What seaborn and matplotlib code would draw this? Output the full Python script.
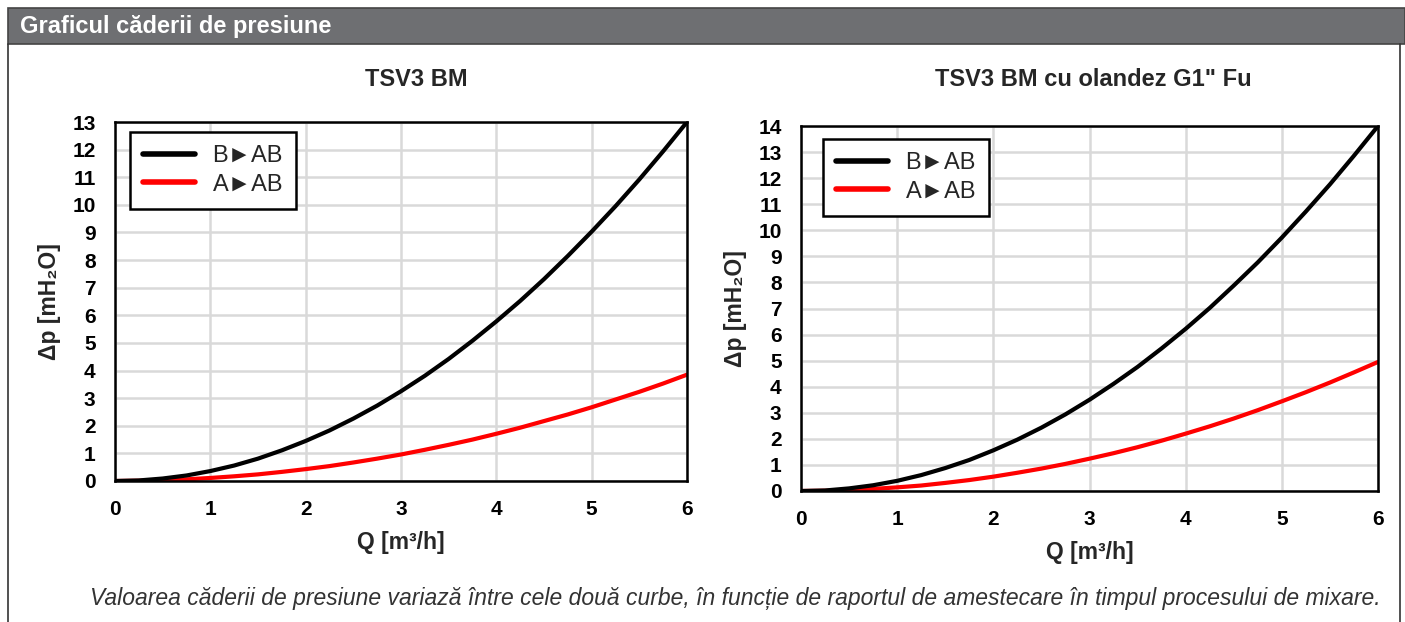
import matplotlib
matplotlib.use('Agg')
import matplotlib.pyplot as plt
import pandas as pd
import seaborn as sns
from matplotlib.lines import Line2D
from matplotlib.patches import Rectangle

# flow values read along the x axis
q = [0, 0.25, 0.5, 0.75, 1, 1.25, 1.5, 1.75, 2, 2.25, 2.5, 2.75, 3,
     3.25, 3.5, 3.75, 4, 4.25, 4.5, 4.75, 5, 5.25, 5.5, 5.75, 6]

# TSV3 BM
left_b_ab = [0, 0.02, 0.09, 0.2, 0.36, 0.56, 0.81, 1.11, 1.45, 1.83, 2.26,
             2.73, 3.25, 3.81, 4.42, 5.08, 5.78, 6.52, 7.31, 8.15, 9.03,
             9.95, 10.92, 11.94, 13.0]
left_a_ab = [0, 0.01, 0.03, 0.06, 0.11, 0.17, 0.24, 0.33, 0.43, 0.54, 0.67,
             0.81, 0.96, 1.13, 1.31, 1.5, 1.71, 1.93, 2.17, 2.41, 2.67,
             2.95, 3.23, 3.53, 3.85]

# TSV3 BM cu olandez G1" Fu
right_b_ab = [0, 0.02, 0.1, 0.22, 0.39, 0.61, 0.88, 1.19, 1.56, 1.97, 2.43,
              2.94, 3.5, 4.11, 4.76, 5.47, 6.22, 7.02, 7.88, 8.77, 9.72,
              10.72, 11.76, 12.86, 14.0]
right_a_ab = [0, 0.01, 0.03, 0.08, 0.14, 0.21, 0.31, 0.42, 0.55, 0.7, 0.86,
              1.04, 1.24, 1.45, 1.68, 1.93, 2.2, 2.48, 2.78, 3.1, 3.44,
              3.79, 4.16, 4.55, 4.95]

series_names = ['B\u25baAB', 'A\u25baAB']
series_colors = ['#000000', '#ff0000']

titles = ['TSV3 BM', 'TSV3 BM cu olandez G1" Fu']
y_max = [13, 14]

sns.set_theme(style='whitegrid')
plt.rcParams['font.family'] = ['Liberation Sans', 'DejaVu Sans']

W, H = 1405, 622
fig = plt.figure(figsize=(W / 100, H / 100), dpi=100)
fig.patch.set_facecolor('white')

# header bar and frame
fig.patches.append(Rectangle((8 / W, 1 - 44 / H), 1 - 8 / W, 36 / H,
                             transform=fig.transFigure, facecolor='#6e6f72',
                             edgecolor='#444444', linewidth=1.2))
fig.lines.append(Line2D([8 / W, 8 / W], [0, 1 - 44 / H],
                        transform=fig.transFigure, color='#333333', linewidth=1.2))
fig.lines.append(Line2D([1400 / W, 1400 / W], [0, 1 - 44 / H],
                        transform=fig.transFigure, color='#333333', linewidth=1.2))
fig.text(20 / W, 1 - 27 / H, 'Graficul c\u0103derii de presiune',
         color='white', fontsize=17, fontweight='bold', va='center', ha='left')

positions = [[115 / W, 1 - 481 / H, 572 / W, 359 / H],
             [801 / W, 1 - 491 / H, 577 / W, 365 / H]]
data_sets = [(left_b_ab, left_a_ab), (right_b_ab, right_a_ab)]
xlabel_y = [543, 552]
title_x = [416, 1093]
legend_anchor = [(0.026, 0.972), (0.038, 0.964)]

for i in range(2):
    ax = fig.add_axes(positions[i])
    b_vals, a_vals = data_sets[i]
    red = pd.DataFrame({'Q': q, 'dp': a_vals})
    black = pd.DataFrame({'Q': q, 'dp': b_vals})
    sns.lineplot(data=red, x='Q', y='dp', color=series_colors[1],
                 linewidth=3.0, ax=ax)
    sns.lineplot(data=black, x='Q', y='dp', color=series_colors[0],
                 linewidth=3.0, ax=ax)
    ax.set_xlim(0, 6)
    ax.set_ylim(0, y_max[i])
    ax.set_xticks(range(0, 7))
    ax.set_yticks(range(0, y_max[i] + 1))
    ax.grid(True, color='#d9d9d9', linewidth=1.8)
    for sp in ax.spines.values():
        sp.set_color('black')
        sp.set_linewidth(1.8)
    ax.tick_params(axis='y', length=0, pad=14, labelsize=15, colors='black')
    ax.tick_params(axis='x', length=0, pad=14, labelsize=15, colors='black')
    for lab in ax.get_xticklabels() + ax.get_yticklabels():
        lab.set_fontweight('bold')
    ax.set_xlabel('')
    ax.set_ylabel('\u0394p [mH\u2082O]', fontsize=16.5, fontweight='bold',
                  labelpad=8)
    cx = positions[i][0] + positions[i][2] / 2
    fig.text(cx, 1 - xlabel_y[i] / H, 'Q [m\u00b3/h]', fontsize=16.5,
             fontweight='bold', ha='center', va='center')
    fig.text(title_x[i] / W, 1 - 80 / H, titles[i], fontsize=17,
             fontweight='bold', ha='center', va='center')
    handles = [Line2D([], [], color=c, linewidth=4) for c in series_colors]
    leg = ax.legend(handles, series_names, loc='upper left',
                    bbox_to_anchor=legend_anchor[i], borderaxespad=0,
                    fontsize=17, frameon=True, fancybox=False,
                    edgecolor='black', handlelength=2.2, handletextpad=0.75,
                    borderpad=0.55, labelspacing=0.28)
    leg.get_frame().set_linewidth(1.8)
    leg.get_frame().set_alpha(1)

fig.text(735 / W, 1 - 598 / H,
         'Valoarea c\u0103derii de presiune variaz\u0103 \u00eentre cele dou\u0103 curbe, '
         '\u00een func\u021bie de raportul de amestecare \u00een timpul procesului de mixare.',
         fontsize=16.5, style='italic', color='#333333', ha='center', va='center')

fig.savefig('out.png', dpi=100)
